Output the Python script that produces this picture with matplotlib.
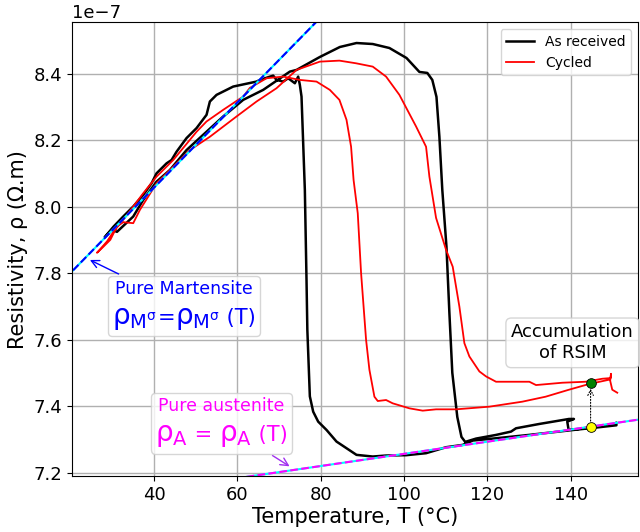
import matplotlib
matplotlib.use("Agg")
import matplotlib.pyplot as plt
import numpy as np
from matplotlib.offsetbox import AnnotationBbox, HPacker, TextArea, VPacker

# resistivity values in units of 1e-7 ohm.m
AS_RECEIVED_T = [
    28.3, 29.9, 31.1, 35.0, 37.4, 40.6, 43.8, 47.8, 51.8, 56.6, 61.4, 66.2, 72.6, 74.2,
    79.8, 84.6, 88.6, 92.5, 96.5, 100.6, 103.7, 105.6, 106.8, 107.8, 108.5, 109.2, 110.2,
    110.9, 111.6, 112.8, 113.8, 114.7, 117.3, 122.1, 125.7, 126.9, 132.5, 139.6, 140.8,
    139.2, 139.5, 141.3, 146.0, 150.4, 151.0, 151.0, 146.0, 140.0, 130.0, 122.9, 116.5,
    114.1, 110.1, 105.3, 100.5, 95.7, 92.5, 88.6, 86.2, 83.8, 81.4, 79.4, 78.2, 77.4,
    76.8, 76.6, 76.2, 75.4, 75.0, 74.6, 73.8, 72.2, 71.0, 69.4, 68.6, 65.4, 64.6, 59.0,
    55.0, 53.4, 52.6, 50.2, 47.8, 45.4, 44.2, 43.0, 40.6, 39.4, 37.4, 35.0, 32.6, 30.3, 28.3,
]
AS_RECEIVED_RHO = [
    7.910, 7.931, 7.925, 7.971, 8.021, 8.076, 8.111, 8.171, 8.217, 8.272, 8.322, 8.352, 8.407, 8.412,
    8.451, 8.481, 8.493, 8.490, 8.478, 8.448, 8.406, 8.403, 8.382, 8.331, 8.211, 8.051, 7.880,
    7.681, 7.501, 7.368, 7.308, 7.293, 7.303, 7.314, 7.324, 7.334, 7.347, 7.362, 7.362,
    7.354, 7.331, 7.331, 7.339, 7.347, 7.351, 7.343, 7.336, 7.328, 7.314, 7.305, 7.297,
    7.284, 7.277, 7.259, 7.253, 7.252, 7.249, 7.254, 7.274, 7.294, 7.329, 7.354, 7.384, 7.430,
    7.630, 7.780, 8.051, 8.332, 8.367, 8.392, 8.372, 8.387, 8.377, 8.382, 8.395, 8.382, 8.377, 8.362,
    8.337, 8.317, 8.277, 8.237, 8.207, 8.166, 8.141, 8.131, 8.101, 8.071, 8.036, 8.001, 7.971, 7.941, 7.911,
]

CYCLED_T = [
    149.2, 144.4, 139.6, 134.0, 128.4, 120.5, 112.5, 107.7, 104.5, 101.3, 97.3, 95.7, 93.7,
    92.9, 91.7, 90.9, 89.7, 88.9, 87.9, 87.3, 86.2, 84.5, 82.2, 79.0, 75.0, 71.0, 67.0, 63.0,
    61.4, 56.6, 52.6, 50.2, 44.6, 40.6, 37.4, 35.0, 32.6, 30.3, 28.7, 26.3, 27.9, 29.5, 31.1,
    32.6, 35.0, 36.6, 40.6, 45.4, 48.6, 53.4, 59.8, 64.6, 69.4, 74.2, 79.8, 84.5, 88.5, 92.5,
    95.7, 98.9, 102.9, 105.3, 106.1, 107.7, 110.1, 111.7, 113.3, 114.5, 115.7, 118.1, 119.7,
    122.1, 130.1, 131.7, 138.0, 143.6, 147.6, 149.6, 149.7, 149.5, 150.0, 151.2,
]
CYCLED_RHO = [
    7.480, 7.467, 7.450, 7.429, 7.414, 7.399, 7.391, 7.391, 7.387, 7.394, 7.409, 7.419, 7.416,
    7.429, 7.510, 7.600, 7.801, 7.981, 8.081, 8.181, 8.262, 8.322, 8.352, 8.377, 8.382, 8.392, 8.387, 8.358,
    8.332, 8.292, 8.257, 8.226, 8.141, 8.091, 8.041, 8.001, 7.961, 7.926, 7.896, 7.862, 7.881, 7.901, 7.941,
    7.954, 7.951, 7.991, 8.071, 8.131, 8.171, 8.211, 8.272, 8.317, 8.357, 8.412, 8.437, 8.440, 8.432, 8.422,
    8.392, 8.337, 8.242, 8.181, 8.091, 7.967, 7.871, 7.820, 7.700, 7.590, 7.550, 7.505, 7.490,
    7.474, 7.474, 7.464, 7.471, 7.474, 7.483, 7.485, 7.498, 7.477, 7.450, 7.441,
]

# linear fits: rho = intercept + slope * T
MART_FIT = (7.546, 0.0128)
AUST_FIT = (7.074, 0.00183)

RSIM_T = 144.8
RSIM_AUST = 7.339
RSIM_CYCLED = 7.470

SCALE = 1e-7

fig = plt.figure(figsize=(6.4, 5.32), dpi=100)
ax = fig.add_axes([0.1125, 0.105, 0.8845, 0.8535])

ax.plot(AS_RECEIVED_T, np.array(AS_RECEIVED_RHO) * SCALE, color="black", lw=1.8, label="As received")
ax.plot(CYCLED_T, np.array(CYCLED_RHO) * SCALE, color="red", lw=1.3, label="Cycled")

t_line = np.linspace(15, 160, 50)
rho_m = (MART_FIT[0] + MART_FIT[1] * t_line) * SCALE
rho_a = (AUST_FIT[0] + AUST_FIT[1] * t_line) * SCALE
ax.plot(t_line, rho_m, color="cyan", lw=1.5)
ax.plot(t_line, rho_m, color="blue", lw=1.5, ls="--")
ax.plot(t_line, rho_a, color="cyan", lw=1.5)
ax.plot(t_line, rho_a, color="magenta", lw=1.5, ls="--")

ax.annotate("", xy=(RSIM_T, RSIM_CYCLED * SCALE), xytext=(RSIM_T, RSIM_AUST * SCALE),
            arrowprops=dict(arrowstyle="->", color="black", lw=0.8, ls=":", shrinkA=4, shrinkB=4))
ax.plot([RSIM_T], [RSIM_CYCLED * SCALE], "o", color="green", mec="black", mew=0.6, ms=7, zorder=5)
ax.plot([RSIM_T], [RSIM_AUST * SCALE], "o", color="yellow", mec="black", mew=0.6, ms=7, zorder=5)

ax.set_xlim(20.3, 156.2)
ax.set_ylim(7.19e-7, 8.556e-7)
ax.set_xticks([40, 60, 80, 100, 120, 140])
ax.set_yticks(np.array([7.2, 7.4, 7.6, 7.8, 8.0, 8.2, 8.4]) * SCALE)
ax.tick_params(labelsize=13)
ax.yaxis.get_offset_text().set_fontsize(13)
ax.grid(True, color="#b0b0b0", lw=1)
ax.set_axisbelow(True)
ax.set_xlabel("Temperature, T (°C)", fontsize=15, labelpad=2)
ax.set_ylabel("Resistivity, ρ (Ω.m)", fontsize=15)
ax.legend(loc="upper right", fontsize=10)

box_props = dict(boxstyle="round,pad=0.3", fc="white", ec="0.8", alpha=0.8)


def formula_box(title, sub, sep_text, color):
    big = dict(color=color, fontsize=20)
    small = dict(color=color, fontsize=15)
    line2 = HPacker(children=[
        TextArea(r"$\mathregular{\rho_{%s}}$" % sub, textprops=big),
        TextArea(sep_text, textprops=small),
        TextArea(r"$\mathregular{\rho_{%s}}$" % sub, textprops=big),
        TextArea(" (T)", textprops=small),
    ], align="baseline", pad=0, sep=0)
    line1 = TextArea(title, textprops=dict(color=color, fontsize=12.5))
    return VPacker(children=[line1, line2], align="center", pad=0, sep=3)


mart = AnnotationBbox(formula_box("Pure Martensite", r"M^{\sigma}", "=", "blue"),
                      xy=(24.0, 7.844 * SCALE), xybox=(47.2, 7.702 * SCALE), boxcoords="data",
                      bboxprops=box_props, pad=0.3,
                      arrowprops=dict(arrowstyle="->", color="blue", lw=1))
ax.add_artist(mart)

aust = AnnotationBbox(formula_box("Pure austenite", "A", " = ", "magenta"),
                      xy=(73.1, 7.215 * SCALE), xybox=(56.2, 7.349 * SCALE), boxcoords="data",
                      bboxprops=box_props, pad=0.3,
                      arrowprops=dict(arrowstyle="->", color="#a030f0", lw=1))
ax.add_artist(aust)

ax.text(140.5, 7.591 * SCALE, "Accumulation\nof RSIM", fontsize=13, ha="center", va="center",
        bbox=box_props)

fig.savefig("out.png", dpi=100)
